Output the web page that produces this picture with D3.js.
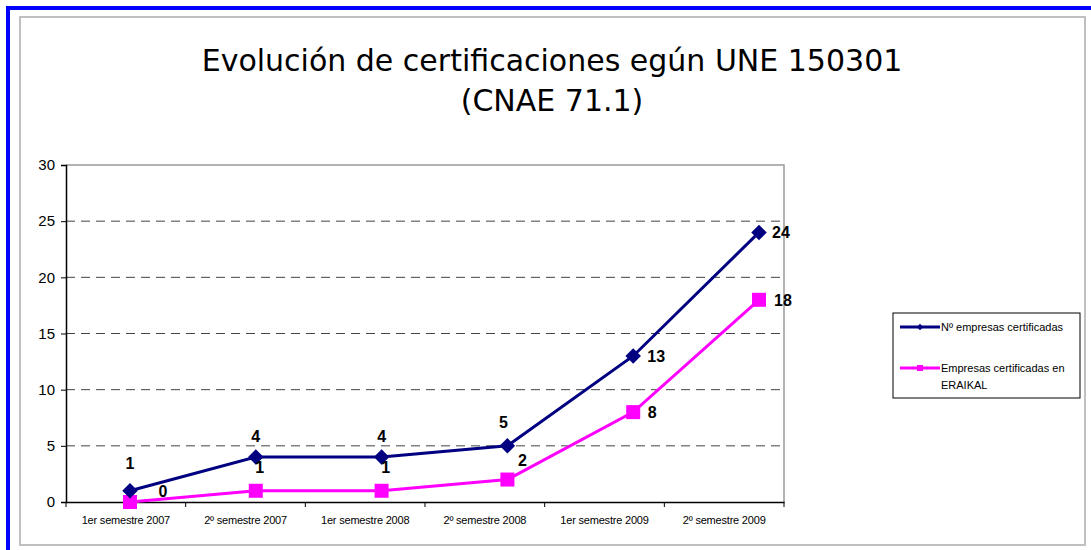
<!DOCTYPE html>
<html>
<head>
<meta charset="utf-8">
<script src="https://cdn.jsdelivr.net/npm/d3@7/dist/d3.min.js"></script>
<style>
  body { margin: 0; background: #fff; }
  svg { display: block; }
</style>
</head>
<body>
<svg id="chart" width="1091" height="550"></svg>
<script>
// data
var categories = ["1er semestre 2007", "2º semestre 2007", "1er semestre 2008",
                  "2º semestre 2008", "1er semestre 2009", "2º semestre 2009"];
var empresas = [1, 4, 4, 5, 13, 24];   // Nº empresas certificadas
var eraikal = [0, 1, 1, 2, 8, 18];     // Empresas certificadas en ERAIKAL
var yTicks = [0, 5, 10, 15, 20, 25, 30];
var titleLines = ["Evolución de certificaciones egún UNE 150301", "(CNAE 71.1)"];

var navy = "#000080", pink = "#ff00ff";

var svg = d3.select("#chart");

// frame: blue corner bars + grey box
svg.append("rect").attr("x", 6).attr("y", 6).attr("width", 1085).attr("height", 4).attr("fill", "#0000ff");
svg.append("rect").attr("x", 6).attr("y", 6).attr("width", 4).attr("height", 544).attr("fill", "#0000ff");
svg.append("rect").attr("x", 20).attr("y", 17).attr("width", 1065).attr("height", 528)
  .attr("fill", "#fff").attr("stroke", "#c0c0c0").attr("stroke-width", 2);

// title
svg.selectAll(".title").data(titleLines).enter().append("text")
  .attr("class", "title")
  .attr("x", 552)
  .attr("y", function(d, i) { return 71 + i * 40; })
  .attr("text-anchor", "middle")
  .style("font-family", "'DejaVu Sans', sans-serif")
  .style("font-size", "30px")
  .style("fill", "#000")
  .text(function(d) { return d; });

// plot area
var plotLeft = 66, plotRight = 784, plotTop = 165, plotBottom = 502;

var y = d3.scaleLinear().domain([0, 30]).range([plotBottom, plotTop]);
var xBand = d3.scaleBand().domain(categories).range([plotLeft, plotRight]);
var x = d3.scalePoint().domain(categories).range([130, 759]);

// grid lines
svg.append("g").selectAll("line").data(yTicks.filter(function(d) { return d > 0 && d < 30; }))
  .enter().append("line")
  .attr("x1", plotLeft).attr("x2", plotRight)
  .attr("y1", function(d) { return y(d); }).attr("y2", function(d) { return y(d); })
  .attr("stroke", "#444").attr("stroke-dasharray", "9,6");

// plot border top / right
svg.append("path")
  .attr("d", "M" + plotLeft + "," + y(30) + "H" + plotRight + "V" + plotBottom)
  .attr("fill", "none").attr("stroke", "#999").attr("stroke-width", 1.5);

// y axis
var yAxis = svg.append("g")
  .attr("transform", "translate(" + plotLeft + ",0)")
  .call(d3.axisLeft(y).tickValues(yTicks).tickSize(5).tickPadding(6));
yAxis.select(".domain").attr("stroke", "#000").attr("stroke-width", 1.5);
yAxis.selectAll(".tick line").attr("stroke", "#000");
yAxis.selectAll("text")
  .style("font-family", "'Liberation Sans', Arial, sans-serif")
  .style("font-size", "15px")
  .attr("fill", "#000");

// x axis
var xAxis = svg.append("g")
  .attr("transform", "translate(0," + plotBottom + ")")
  .call(d3.axisBottom(xBand).tickSize(0).tickPadding(14));
xAxis.select(".domain").attr("stroke", "#000").attr("stroke-width", 1.5);
xAxis.selectAll("text")
  .style("font-family", "'Liberation Sans', Arial, sans-serif")
  .style("font-size", "11px")
  .style("letter-spacing", "-0.2px")
  .attr("fill", "#000");
// category boundary ticks
svg.append("g").selectAll("line")
  .data(categories.concat(["end"]))
  .enter().append("line")
  .attr("x1", function(d) { return d === "end" ? plotRight : xBand(d); })
  .attr("x2", function(d) { return d === "end" ? plotRight : xBand(d); })
  .attr("y1", plotBottom).attr("y2", plotBottom + 5)
  .attr("stroke", "#000");

// lines
var line = d3.line()
  .x(function(d, i) { return x(categories[i]); })
  .y(function(d) { return y(d); });

svg.append("path").datum(eraikal)
  .attr("d", line).attr("fill", "none").attr("stroke", pink).attr("stroke-width", 3);
svg.append("path").datum(empresas)
  .attr("d", line).attr("fill", "none").attr("stroke", navy).attr("stroke-width", 3);

// markers
svg.append("g").selectAll("rect").data(eraikal).enter().append("rect")
  .attr("x", function(d, i) { return x(categories[i]) - 7; })
  .attr("y", function(d) { return y(d) - 7; })
  .attr("width", 14).attr("height", 14)
  .attr("fill", pink);
svg.append("g").selectAll("path").data(empresas).enter().append("path")
  .attr("d", d3.symbol().type(d3.symbolSquare).size(120))
  .attr("transform", function(d, i) { return "translate(" + x(categories[i]) + "," + y(d) + ") rotate(45)"; })
  .attr("fill", navy);

// data labels
var labelStyle = function(sel) {
  sel.style("font-family", "'Liberation Sans', Arial, sans-serif")
    .style("font-size", "16px").style("font-weight", "bold").attr("fill", "#000");
};
var empresasOffsets = [[0, -22], [0, -15], [0, -15], [-4, -18], [23, 6], [22, 6]];
var eraikalOffsets = [[33, -5], [4, -18], [4, -18], [15, -14], [19, 6], [24, 6]];

svg.append("g").selectAll("text").data(empresas).enter().append("text")
  .attr("x", function(d, i) { return x(categories[i]) + empresasOffsets[i][0]; })
  .attr("y", function(d, i) { return y(d) + empresasOffsets[i][1]; })
  .attr("text-anchor", "middle")
  .text(function(d) { return d; })
  .call(labelStyle);
svg.append("g").selectAll("text").data(eraikal).enter().append("text")
  .attr("x", function(d, i) { return x(categories[i]) + eraikalOffsets[i][0]; })
  .attr("y", function(d, i) { return y(d) + eraikalOffsets[i][1]; })
  .attr("text-anchor", "middle")
  .text(function(d) { return d; })
  .call(labelStyle);

// legend
var lg = svg.append("g").attr("transform", "translate(893,313)");
lg.append("rect").attr("width", 187).attr("height", 85)
  .attr("fill", "#fff").attr("stroke", "#000").attr("stroke-width", 1);
var legendItems = [
  { color: navy, lines: ["Nº empresas certificadas"], y: 14, mark: "diamond" },
  { color: pink, lines: ["Empresas certificadas en", "ERAIKAL"], y: 55, mark: "square" }
];
legendItems.forEach(function(it) {
  lg.append("line").attr("x1", 7).attr("x2", 47).attr("y1", it.y).attr("y2", it.y)
    .attr("stroke", it.color).attr("stroke-width", 3);
  if (it.mark === "diamond") {
    lg.append("path").attr("d", d3.symbol().type(d3.symbolSquare).size(22))
      .attr("transform", "translate(27," + it.y + ") rotate(45)").attr("fill", it.color);
  } else {
    lg.append("rect").attr("x", 24).attr("y", it.y - 3).attr("width", 6).attr("height", 6).attr("fill", it.color);
  }
  it.lines.forEach(function(t, j) {
    lg.append("text").attr("x", 48).attr("y", it.y + 4 + j * 17)
      .style("font-family", "'Liberation Sans', Arial, sans-serif")
      .style("font-size", "11px")
      .attr("fill", "#000")
      .text(t);
  });
});
</script>
</body>
</html>
